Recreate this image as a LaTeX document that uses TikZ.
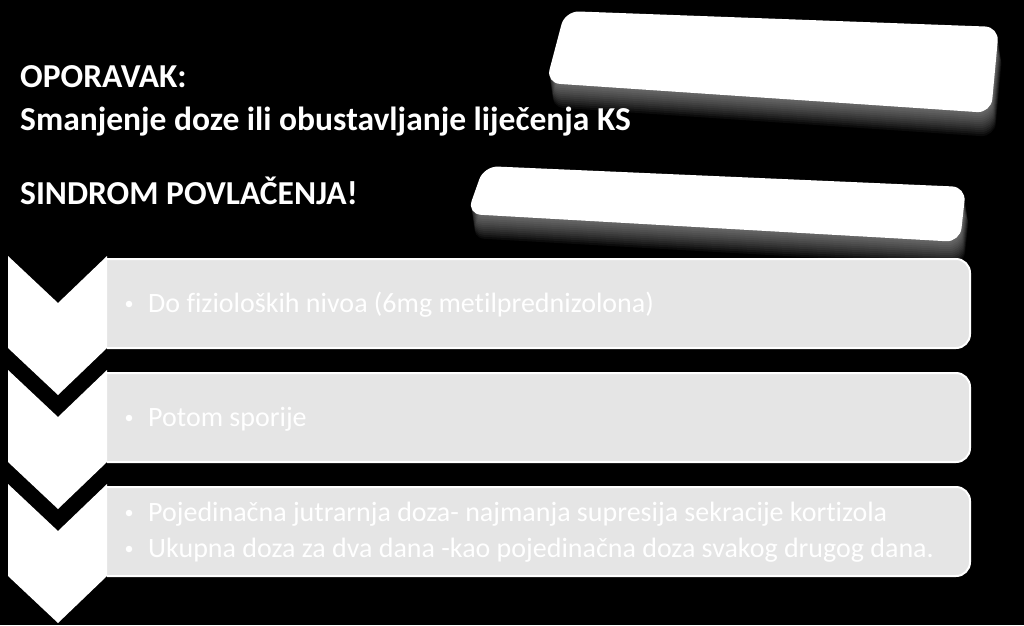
\documentclass[tikz,border=0pt]{standalone}
\usepackage{fontspec}
\setmainfont{Carlito}[Ligatures=CommonOff]
\definecolor{boxgray}{RGB}{229,229,229}
\tikzset{
  titletext/.style={anchor=base west, inner sep=0pt, text=white, font=\bfseries\fontsize{33.5}{40}\selectfont},
  itemtext/.style={anchor=base west, inner sep=0pt, text=white, font=\fontsize{28}{34}\selectfont},
  bulletdot/.style={circle, fill=white, draw=none, minimum size=6.5pt, inner sep=0pt},
  chevshape/.style={fill=white, draw=none},
  graybox/.style={fill=boxgray, draw=white, line width=2pt, rounded corners=14pt},
  whitecard/.style={fill=white, draw=none, rounded corners=14pt},
  glow/.style={fill=white, opacity=0.045, draw=none, rounded corners=14pt}
}
\begin{document}
\begin{tikzpicture}[x=1pt,y=-1pt]
\fill[black] (0,0) rectangle (1024,625);
\useasboundingbox (0,0) rectangle (1024,625);

% top-right white cards with soft shadow
\foreach \i in {1,...,12}{
  \fill[glow, shift={(0.3*\i,2*\i)}] (565,11) -- (999,27) -- (991,113) -- (546,83) -- cycle;
  \fill[glow, shift={(0.3*\i,2*\i)}] (484,166) -- (966,187) -- (960,242) -- (467,214) -- cycle;
}
\fill[whitecard] (565,11) -- (999,27) -- (991,113) -- (546,83) -- cycle;
\fill[whitecard] (484,166) -- (966,187) -- (960,242) -- (467,214) -- cycle;

% title texts
\node[titletext] (t1) at (20,87) {OPORAVAK:};
\node[titletext] (t2) at (20,130) {Smanjenje doze ili obustavljanje liječenja KS};
\node[titletext] (t3) at (20,204) {SINDROM POVLAČENJA!};

% gray boxes (left edge hidden behind chevrons)
\foreach \top/\bot in {259/348, 373/462, 487/576}{
  \begin{scope}
    \clip (107,240) rectangle (1010,600);
    \filldraw[graybox] (80,\top) rectangle (970,\bot);
  \end{scope}
}

% chevrons
\fill[chevshape] (8,256) -- (58,303) -- (107,256) -- (107,348) -- (58,395) -- (8,348) -- cycle;
\fill[chevshape] (8,370) -- (58,417) -- (107,370) -- (107,462) -- (58,509) -- (8,462) -- cycle;
\fill[chevshape] (8,484) -- (58,531) -- (107,484) -- (107,576) -- (58,623) -- (8,576) -- cycle;

% bullet items
\node[bulletdot] (b1) at (129,304) {};
\node[itemtext] (i1) at (148,312) {Do fizioloških nivoa (6mg metilprednizolona)};
\node[bulletdot] (b2) at (129,418) {};
\node[itemtext] (i2) at (148,426) {Potom sporije};
\node[bulletdot] (b3) at (129,513) {};
\node[itemtext] (i3) at (148,521) {Pojedinačna jutrarnja doza- najmanja supresija sekracije kortizola};
\node[bulletdot] (b4) at (129,549) {};
\node[itemtext] (i4) at (148,557) {Ukupna doza za dva dana -kao pojedinačna doza svakog drugog dana.};
\end{tikzpicture}
\end{document}
